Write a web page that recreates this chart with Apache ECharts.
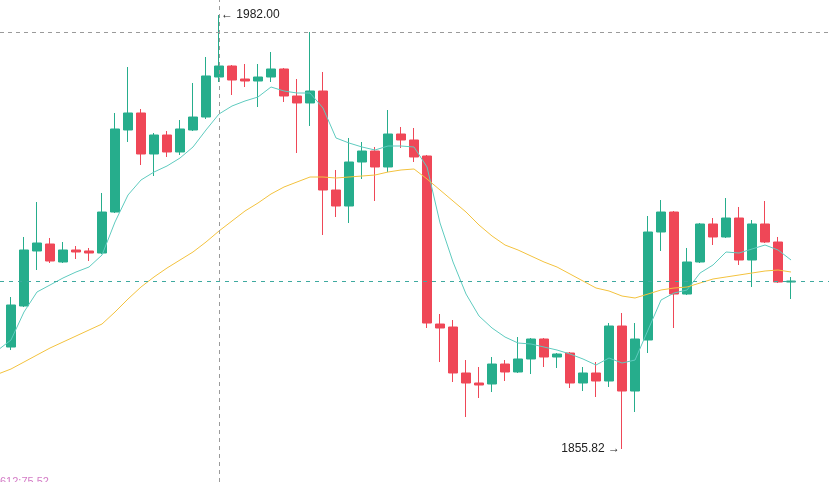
<!DOCTYPE html>
<html>
<head>
<meta charset="utf-8">
<style>
  html, body { margin: 0; padding: 0; background: #fff; }
  #chart { width: 829px; height: 482px; }
</style>
<script src="https://cdn.jsdelivr.net/npm/echarts@6/dist/echarts.min.js"></script>
</head>
<body>
<div id="chart"></div>
<script>
// [open, close, lowest, highest]
const ohlc = [
  [1885.47, 1897.69, 1884.60, 1900.01],
  [1897.40, 1913.68, 1897.10, 1917.46],
  [1913.39, 1915.71, 1907.86, 1927.63],
  [1915.42, 1910.48, 1909.90, 1917.17],
  [1910.19, 1913.68, 1909.90, 1916.00],
  [1913.68, 1913.10, 1911.06, 1914.84],
  [1913.39, 1912.80, 1910.48, 1914.26],
  [1912.80, 1924.72, 1912.50, 1930.25],
  [1924.72, 1948.86, 1924.43, 1953.51],
  [1948.57, 1953.51, 1945.08, 1966.88],
  [1953.51, 1941.59, 1938.39, 1954.67],
  [1941.59, 1947.11, 1935.19, 1947.69],
  [1947.11, 1942.17, 1940.72, 1948.27],
  [1942.17, 1948.86, 1941.30, 1951.47],
  [1948.57, 1952.34, 1948.27, 1962.23],
  [1952.34, 1964.27, 1951.76, 1969.79],
  [1963.97, 1967.17, 1962.52, 1982.00],
  [1967.17, 1963.10, 1958.74, 1967.46],
  [1963.39, 1962.81, 1961.07, 1967.75],
  [1962.81, 1963.97, 1955.25, 1967.75],
  [1963.97, 1966.30, 1962.52, 1971.24],
  [1966.30, 1958.45, 1956.71, 1966.59],
  [1958.45, 1956.42, 1941.88, 1963.39],
  [1956.42, 1959.90, 1949.73, 1977.06],
  [1959.90, 1931.12, 1918.04, 1965.43],
  [1931.12, 1926.47, 1923.27, 1936.94],
  [1926.47, 1939.26, 1921.53, 1946.24],
  [1939.26, 1942.46, 1934.32, 1945.08],
  [1942.46, 1937.81, 1927.92, 1943.62],
  [1937.81, 1947.40, 1936.35, 1954.38],
  [1947.40, 1945.66, 1943.33, 1949.44],
  [1945.66, 1940.72, 1939.26, 1949.15],
  [1941.01, 1892.45, 1891.00, 1941.30],
  [1892.16, 1891.00, 1881.11, 1895.07],
  [1891.29, 1877.92, 1875.30, 1893.32],
  [1877.92, 1875.01, 1865.12, 1881.69],
  [1875.01, 1874.43, 1870.65, 1879.66],
  [1874.72, 1880.53, 1872.39, 1882.57],
  [1880.53, 1878.21, 1875.59, 1881.69],
  [1878.21, 1881.99, 1877.92, 1888.38],
  [1881.99, 1887.80, 1877.62, 1888.09],
  [1887.80, 1882.57, 1879.66, 1888.09],
  [1882.57, 1883.44, 1879.37, 1883.73],
  [1883.73, 1875.01, 1873.55, 1884.02],
  [1875.01, 1877.92, 1872.68, 1879.66],
  [1877.92, 1875.59, 1870.94, 1881.11],
  [1875.59, 1891.58, 1873.85, 1892.45],
  [1891.58, 1872.68, 1855.82, 1895.36],
  [1872.68, 1887.80, 1866.58, 1892.45],
  [1887.51, 1918.91, 1883.73, 1923.56],
  [1918.91, 1924.72, 1913.39, 1928.21],
  [1924.72, 1900.88, 1891.00, 1925.01],
  [1900.88, 1910.19, 1900.59, 1914.26],
  [1910.19, 1921.24, 1909.90, 1921.53],
  [1921.24, 1917.46, 1915.13, 1922.98],
  [1917.46, 1922.98, 1917.17, 1928.79],
  [1922.98, 1910.77, 1909.32, 1926.18],
  [1910.77, 1921.24, 1902.92, 1922.40],
  [1921.24, 1916.00, 1915.71, 1927.92],
  [1916.00, 1904.37, 1904.08, 1917.46],
  [1904.37, 1904.66, 1899.43, 1905.83]
];

// moving averages, first value belongs to the bar just left of the view
const maStart = -1;
const maFast = [
  1884.60, 1887.51, 1895.65, 1901.47, 1903.50, 1905.54, 1907.28, 1908.73, 1912.22, 1921.82,
  1929.67, 1934.03, 1936.35, 1938.10, 1940.42, 1943.62, 1948.57, 1953.22, 1955.54, 1957.00,
  1958.16, 1961.07, 1959.90, 1959.32, 1959.32, 1954.96, 1946.24, 1944.79, 1943.62, 1942.75,
  1943.91, 1943.91, 1943.62, 1937.81, 1921.53, 1910.19, 1900.88, 1894.49, 1891.00, 1888.38,
  1886.64, 1886.35, 1885.47, 1884.60, 1883.44, 1881.99, 1880.24, 1882.28, 1880.82, 1881.69,
  1890.42, 1899.14, 1901.17, 1902.05, 1906.99, 1909.32, 1913.10, 1912.80, 1913.97, 1915.13,
  1913.68, 1910.77
];
const maSlow = [
  1877.62, 1879.08, 1881.11, 1883.15, 1885.18, 1886.93, 1888.67, 1890.42, 1892.16, 1895.65,
  1899.43, 1902.92, 1905.83, 1908.44, 1910.77, 1913.10, 1916.00, 1919.20, 1922.11, 1925.02,
  1927.34, 1929.96, 1931.99, 1933.45, 1934.90, 1934.90, 1934.61, 1934.90, 1935.19, 1935.48,
  1936.35, 1936.94, 1937.23, 1934.32, 1931.12, 1927.92, 1924.72, 1920.94, 1917.75, 1915.13,
  1913.68, 1911.93, 1910.19, 1908.73, 1906.70, 1904.66, 1902.63, 1901.76, 1900.30, 1899.72,
  1900.88, 1902.05, 1902.63, 1902.92, 1904.08, 1905.25, 1905.83, 1906.41, 1906.99, 1907.57,
  1907.86, 1907.28
];

const crosshairIndex = 16;
const crosshairPrice = 1976.97;
const cornerText = '612:75.52';

const upColor = '#26ad8c';
const downColor = '#ef4757';

const candles = ohlc.map((d, i) => [i].concat(d));
const fastLine = maFast.map((v, i) => [i + maStart, v]);
const slowLine = maSlow.map((v, i) => [i + maStart, v]);

let hiIdx = 0, loIdx = 0;
ohlc.forEach((d, i) => {
  if (d[3] > ohlc[hiIdx][3]) hiIdx = i;
  if (d[2] < ohlc[loIdx][2]) loIdx = i;
});
const lastClose = ohlc[ohlc.length - 1][1];

const myChart = echarts.init(document.getElementById('chart'));

const option = {
  animation: false,
  grid: { left: 0, right: 0, top: 0, bottom: 0 },
  xAxis: {
    type: 'value',
    min: -0.846,
    max: 62.92,
    show: false,
    splitLine: { show: false }
  },
  yAxis: {
    type: 'value',
    min: 1846.23,
    max: 1986.36,
    show: false,
    splitLine: { show: false }
  },
  graphic: [
    {
      type: 'text',
      left: 0,
      top: 476,
      style: {
        text: cornerText,
        fill: '#d47cc6',
        font: '11px "Liberation Sans", sans-serif'
      }
    }
  ],
  series: [
    {
      type: 'candlestick',
      data: candles,
      encode: { x: 0, y: [1, 2, 3, 4] },
      barWidth: 10,
      itemStyle: {
        color: upColor,
        color0: downColor,
        borderColor: upColor,
        borderColor0: downColor,
        borderWidth: 1
      },
      markPoint: {
        symbol: 'circle',
        symbolSize: 0,
        label: {
          show: true,
          color: '#222',
          fontSize: 12,
          fontFamily: '"Liberation Sans", sans-serif'
        },
        data: [
          {
            coord: [hiIdx, ohlc[hiIdx][3]],
            value: ohlc[hiIdx][3].toFixed(2),
            label: { position: 'right', distance: 2, formatter: '← {c}' }
          },
          {
            coord: [loIdx, ohlc[loIdx][2]],
            value: ohlc[loIdx][2].toFixed(2),
            label: { position: 'left', distance: 2, formatter: '{c} →' }
          }
        ]
      },
      // crosshair
      markLine: {
        symbol: ['none', 'none'],
        silent: true,
        label: { show: false },
        lineStyle: { color: '#9a9a9a', type: [4, 4], width: 1 },
        data: [
          { xAxis: crosshairIndex },
          { yAxis: crosshairPrice }
        ]
      }
    },
    {
      name: 'MA fast',
      type: 'line',
      data: fastLine,
      showSymbol: false,
      lineStyle: { color: '#5fcbbf', width: 1 },
      z: 3,
      // last price line
      markLine: {
        symbol: ['none', 'none'],
        silent: true,
        label: { show: false },
        lineStyle: { color: '#3ea99f', type: [4, 5], width: 1 },
        data: [{ yAxis: lastClose }]
      }
    },
    {
      name: 'MA slow',
      type: 'line',
      data: slowLine,
      showSymbol: false,
      lineStyle: { color: '#f3c23e', width: 1 },
      z: 3
    }
  ]
};

myChart.setOption(option);
window.addEventListener('resize', myChart.resize);
</script>
</body>
</html>
